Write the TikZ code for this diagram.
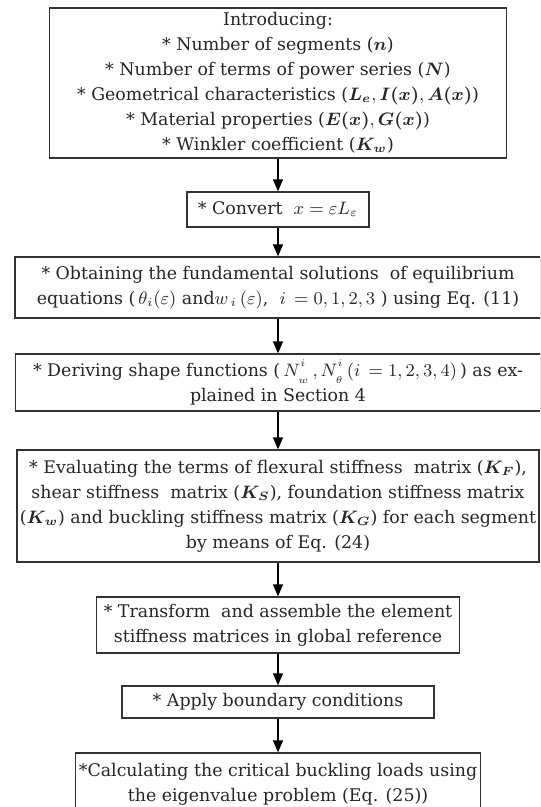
\documentclass[tikz,border=0pt]{standalone}
\usepackage{amsmath,bm}
\usepackage{fontspec}
\setmainfont{DejaVu Serif}
\usetikzlibrary{arrows.meta}

\begin{document}
\begin{tikzpicture}[
        x=0.5pt, y=-0.5pt,
        stepbox/.style={rectangle, draw=black!80, line width=0.65pt, inner sep=0pt, align=center, text=black!85, font=\fontsize{8.7}{12.5}\selectfont},
        flow_arrow/.style={-{Triangle[width=5pt,length=6pt]}, line width=0.65pt, draw=black}
    ]
        \useasboundingbox (0,0) rectangle (540,807);
        \clip (0,0) rectangle (540,807);

        % Box 1: input data
        \node[stepbox, minimum width=228.5pt, minimum height=75pt] (input) at (278,83) {Introducing:\\
            * Number of segments ($\bm{n}$)\\
            * Number of terms of power series ($\bm{N}$)\\
            * Geometrical characteristics ($\bm{L_e}, \bm{I(x)}, \bm{A(x)}$)\\
            * Material properties ($\bm{E(x)}, \bm{G(x)}$)\\
            * Winkler coefficient ($\bm{K_w}$)};

        % Box 2: change of variable
        \node[stepbox, minimum width=91pt, minimum height=17.5pt] (convert) at (278,209.5) {* Convert \ $x = \varepsilon L_{\varepsilon}$};

        % Box 3: fundamental solutions
        \node[stepbox, minimum width=263pt, minimum height=30.5pt] (fundamental) at (278,287.5) {* Obtaining the fundamental solutions \ of equilibrium\\
            equations ($\,\theta_i(\varepsilon)$ and$w_{\,i}\,(\varepsilon)$,\ \ $i\,=0,1,2,3$ ) using Eq. (11)};

        % Box 4: shape functions (scripts pulled apart a little)
        \node[stepbox, minimum width=262.5pt, minimum height=28.5pt] (shape) at (278,382.5) {* Deriving shape functions ($\,N^{\raisebox{1.5pt}{$\scriptscriptstyle i$}}_{\raisebox{-1.5pt}{$\scriptscriptstyle w$}}\,, N^{\raisebox{1.5pt}{$\scriptscriptstyle i$}}_{\raisebox{-1.5pt}{$\scriptscriptstyle \theta$}}\,(i\,=1,2,3,4)\,$) as ex-\\
            plained in Section 4};

        % Box 5: stiffness matrices
        \node[stepbox, minimum width=261pt, minimum height=56pt] (stiffness) at (278,506) {* Evaluating the terms of flexural stiffness \ matrix ($\bm{K_F}$),\\
            shear stiffness \ matrix ($\bm{K_S}$), foundation stiffness matrix\\
            ($\bm{K_w}$) and buckling stiffness matrix ($\bm{K_G}$) for each segment\\
            by means of Eq. (24)};

        % Box 6: assembly
        \node[stepbox, minimum width=181.5pt, minimum height=28pt] (assemble) at (278,625) {* Transform \ and assemble the element\\
            stiffness matrices in global reference};

        % Box 7: boundary conditions
        \node[stepbox, minimum width=156pt, minimum height=16pt] (boundary) at (278,702) {* Apply boundary conditions};

        % Box 8: eigenvalue problem
        \node[stepbox, minimum width=202.5pt, minimum height=31pt] (buckling) at (278,784) {*Calculating the critical buckling loads using\\
            the eigenvalue problem (Eq. (25))};

        \draw[flow_arrow] (input) -- (convert);
        \draw[flow_arrow] (convert) -- (fundamental);
        \draw[flow_arrow] (fundamental) -- (shape);
        \draw[flow_arrow] (shape) -- (stiffness);
        \draw[flow_arrow] (stiffness) -- (assemble);
        \draw[flow_arrow] (assemble) -- (boundary);
        \draw[flow_arrow] (boundary) -- (buckling);
    \end{tikzpicture}
\end{document}
